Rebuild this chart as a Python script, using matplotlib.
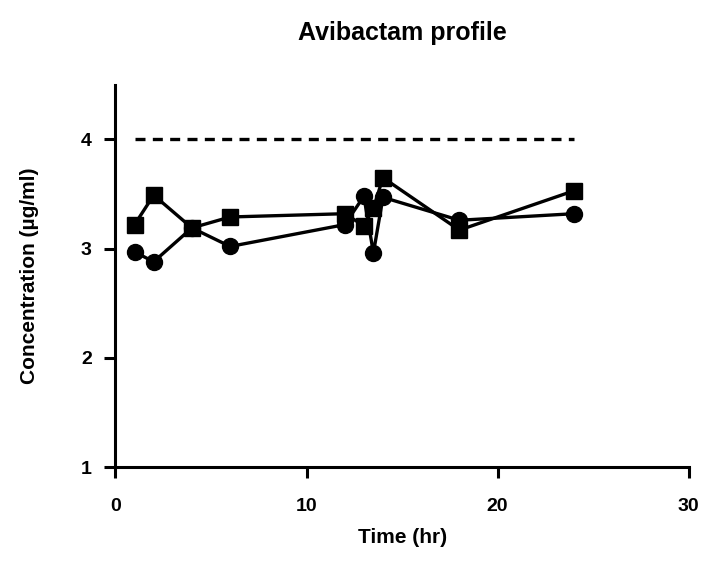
import matplotlib
matplotlib.use("Agg")
import matplotlib.pyplot as plt

time_hr = [1, 2, 4, 6, 12, 13, 13.5, 14, 18, 24]
series_square = [3.22, 3.49, 3.19, 3.29, 3.32, 3.21, 3.37, 3.65, 3.17, 3.53]
series_circle = [2.97, 2.88, 3.19, 3.02, 3.22, 3.48, 2.96, 3.47, 3.26, 3.32]
ref_x = [1, 24]
ref_y = [4, 4]
x_ticks = [0, 10, 20, 30]
y_ticks = [1, 2, 3, 4]

plt.rcParams['font.family'] = ['Liberation Sans', 'DejaVu Sans']
plt.rcParams['font.weight'] = 'bold'

fig = plt.figure(figsize=(7.02, 5.62), dpi=100)
ax = fig.add_axes([0.1645, 0.169, 0.8165, 0.680])

ax.plot(ref_x, ref_y, color='black', lw=2.4, ls=(0, (3, 2.2)))
ax.plot(time_hr, series_circle, color='black', lw=2.4, marker='o', ms=11.5, zorder=3)
ax.plot(time_hr, series_square, color='black', lw=2.4, marker='s', ms=11.5, zorder=3)

ax.set_xlim(0, 30)
ax.set_ylim(1, 4.5)
ax.set_xticks(x_ticks)
ax.set_yticks(y_ticks)
for s in ['top', 'right']:
    ax.spines[s].set_visible(False)
for s in ['left', 'bottom']:
    ax.spines[s].set_linewidth(2.2)
ax.tick_params(direction='out', length=8, width=2.2, labelsize=14)
ax.tick_params(axis='x', pad=14)
ax.tick_params(axis='y', pad=9)
for lab in ax.get_xticklabels() + ax.get_yticklabels():
    lab.set_fontweight('bold')

ax.set_xlabel('Time (hr)', fontsize=15, fontweight='bold', labelpad=10)
ax.set_ylabel('Concentration (µg/ml)', fontsize=15, fontweight='bold', labelpad=30)
ax.set_title('Avibactam profile', fontsize=18, fontweight='bold', pad=32)

fig.savefig('out.png', dpi=100)
